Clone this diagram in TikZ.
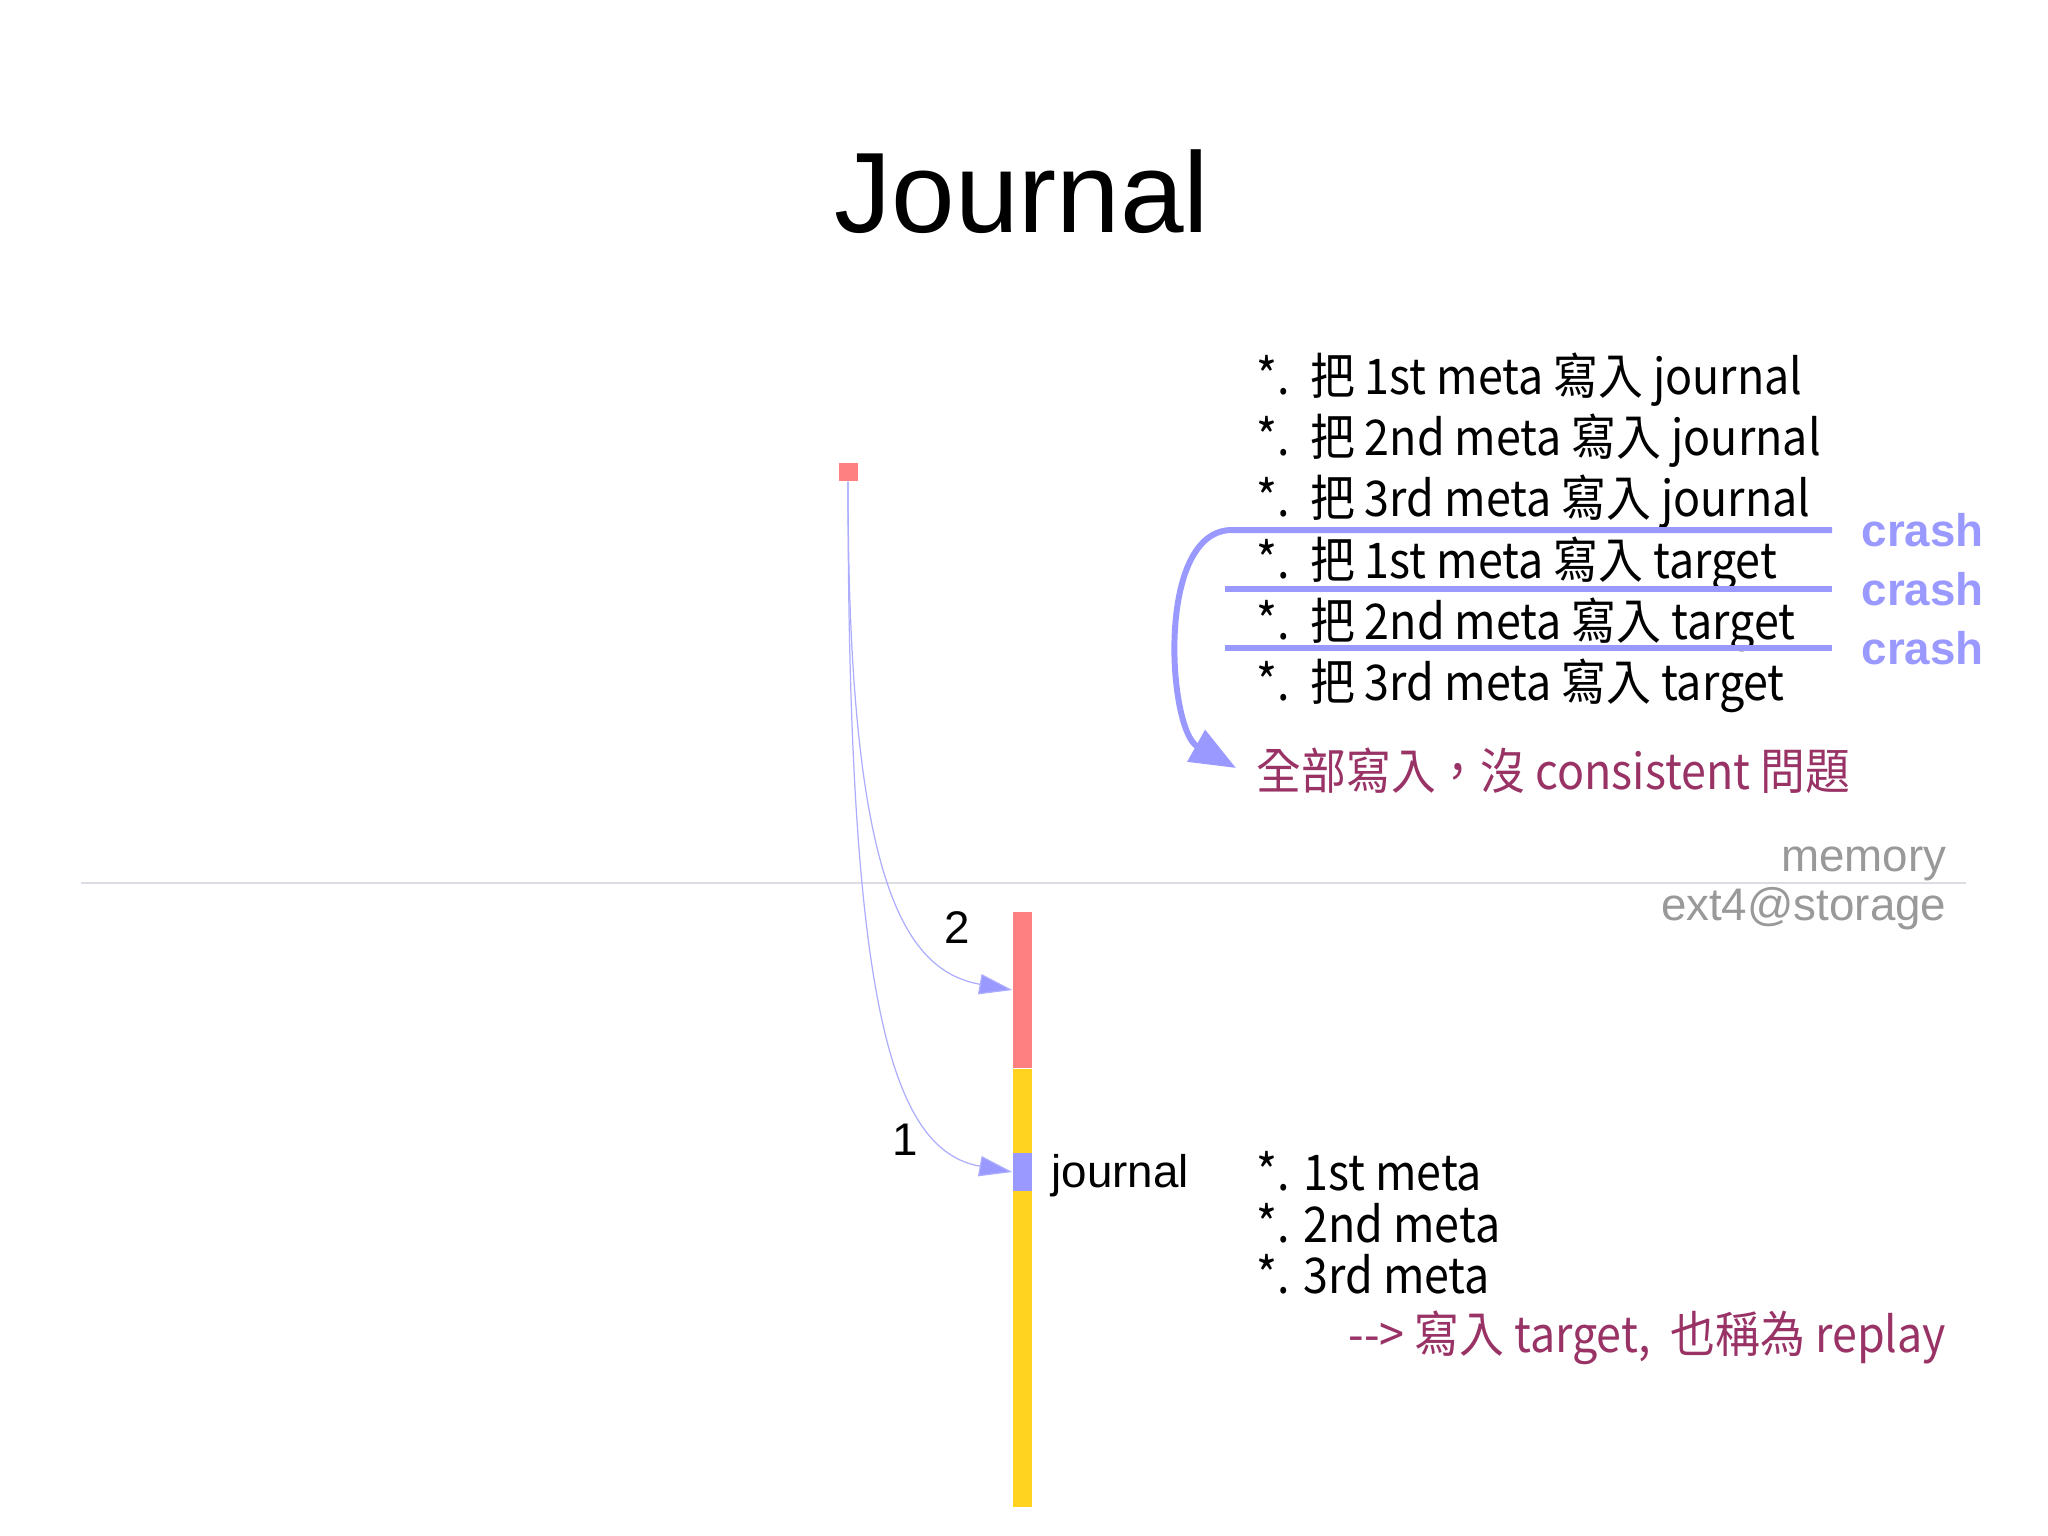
\documentclass[tikz,border=0pt]{standalone}
\usepackage{fontspec}
\setmainfont{Liberation Sans}
\newfontfamily\cjk[FakeStretch=0.91]{Noto Sans CJK TC}
\usetikzlibrary{arrows.meta}
\definecolor{jred}{HTML}{FF8080}
\definecolor{jyellow}{HTML}{FFD320}
\definecolor{jblue}{HTML}{9999FF}
\definecolor{jmaroon}{HTML}{993366}
\definecolor{jgray}{HTML}{999999}
\definecolor{jline}{HTML}{DCDCE4}
\begin{document}
\begin{tikzpicture}[x=0.01cm,y=-0.01cm,
  txt/.style={anchor=base west, inner sep=0pt},
  lbl/.style={inner sep=0pt, font=\fontsize{13pt}{15pt}\selectfont},
  lst/.style={txt, font=\cjk\fontsize{14pt}{16pt}\selectfont},
  crashlbl/.style={txt, text=jblue, font=\bfseries\fontsize{13pt}{15pt}\selectfont},
  crashline/.style={draw=jblue, line width=1.7pt},
  seg/.style={rectangle, inner sep=0pt, minimum width=0.19cm},
  thinarrow/.style={draw=jblue!80, line width=0.35pt, -{Triangle[length=9.4pt,width=5.8pt,fill=jblue]}}]
\useasboundingbox (0,0) rectangle (2048,1535);

% title
\node[inner sep=0pt, anchor=base, font=\fontsize{32.5pt}{40pt}\selectfont] (title) at (1022,232) {Journal};

% memory / storage divider
\coordinate (hl) at (81,883);
\coordinate (hr) at (1966,883);
\draw[jline, line width=0.8pt] (hl) -- (hr);
\node[lbl, anchor=base east, text=jgray] (mem) at (1947,871) {memory};
\node[lbl, anchor=base east, text=jgray] (ext) at (1947,920) {ext4@storage};

% memory block
\node[seg, fill=jred, minimum height=0.18cm] (memsq) at (848,472) {};

% journal bar
\node[seg, fill=jred, minimum height=1.56cm] (jred) at (1022.5,990) {};
\node[seg, fill=jyellow, minimum height=4.37cm, anchor=north] (jyel) at (jred.south) {};
\node[seg, fill=jblue, minimum height=0.38cm] (jblue) at (1022.5,1172) {};
\node[lbl, anchor=base west] (jlab) at (1051,1187) {journal};

% arrows from memory
\draw[thinarrow] (memsq.south) .. controls (848,870) and (900,970) .. (jred.west);
\draw[thinarrow] (memsq.south) .. controls (848,1000) and (890,1150) .. (jblue.west);
\node[lbl, anchor=base] (n2) at (957,943) {2};
\node[lbl, anchor=base] (n1) at (905,1155) {1};

% journal contents
\node[lst] (m1) at (1256,1190) {*. 1st meta};
\node[lst] (m2) at (1256,1242) {*. 2nd meta};
\node[lst] (m3) at (1256,1293) {*. 3rd meta};
\node[lst, text=jmaroon] (rep) at (1348,1352) {{-}{-}> 寫入 target,\ \ 也稱為 replay};

% steps list
\node[lst] (s1) at (1256,394) {*.\ \ 把 1st meta 寫入 journal};
\node[lst] (s2) at (1256,455) {*.\ \ 把 2nd meta 寫入 journal};
\node[lst] (s3) at (1256,516) {*.\ \ 把 3rd meta 寫入 journal};
\node[lst] (s4) at (1256,578) {*.\ \ 把 1st meta 寫入 target};
\node[lst] (s5) at (1256,639) {*.\ \ 把 2nd meta 寫入 target};
\node[lst] (s6) at (1256,700) {*.\ \ 把 3rd meta 寫入 target};
\node[lst, text=jmaroon] (allok) at (1256,789) {全部寫入，沒 consistent 問題};

% crash lines
\coordinate (c1s) at (1232,530);
\coordinate (c1e) at (1832,530);
\coordinate (c2s) at (1225,589);
\coordinate (c2e) at (1832,589);
\coordinate (c3s) at (1225,648);
\coordinate (c3e) at (1832,648);
\coordinate (ctip) at (1236,768);
\draw[crashline] (c2s) -- (c2e);
\draw[crashline] (c3s) -- (c3e);
\draw[crashline, -{Triangle[length=13pt,width=10pt]}] (c1e) -- (c1s) .. controls (1155,530) and (1168,730) .. (ctip);
\node[crashlbl] (cr1) at (1861,546) {crash};
\node[crashlbl] (cr2) at (1861,605) {crash};
\node[crashlbl] (cr3) at (1861,664) {crash};
\end{tikzpicture}
\end{document}
